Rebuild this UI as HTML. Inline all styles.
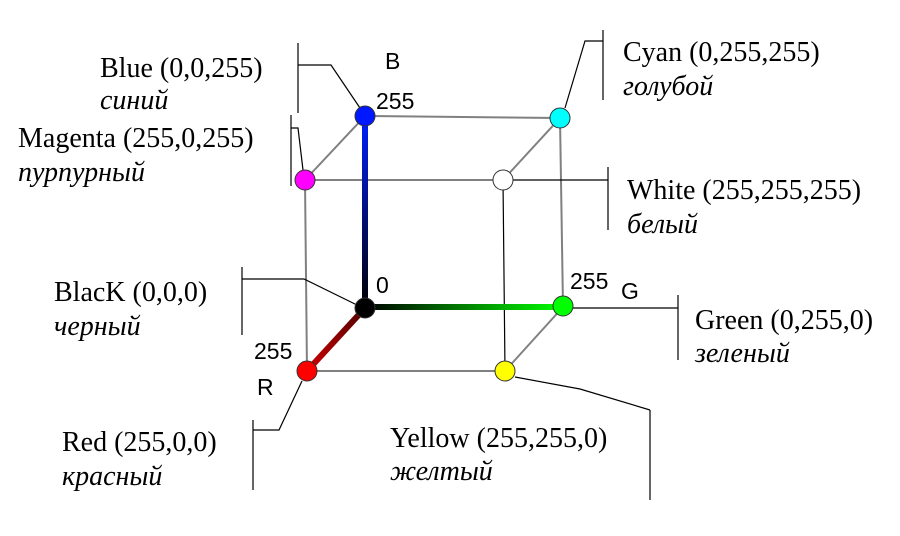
<!DOCTYPE html>
<html><head><meta charset="utf-8"><style>
body{margin:0;background:#fff}
svg{display:block}
.s{font-family:"Liberation Serif",serif;font-size:28px;fill:#000}
.i{font-family:"Liberation Serif",serif;font-size:28px;font-style:italic;fill:#000}
.a{font-family:"Liberation Sans",sans-serif;font-size:23px;fill:#000}
</style></head><body>
<svg width="900" height="536">
<defs>
<linearGradient id="gb" x1="0" y1="1" x2="0" y2="0"><stop offset="0" stop-color="#000"/><stop offset="1" stop-color="#0020ff"/></linearGradient>
<linearGradient id="gg" x1="0" y1="0" x2="1" y2="0"><stop offset="0" stop-color="#000"/><stop offset="1" stop-color="#00ff00"/></linearGradient>
<linearGradient id="gr" x1="1" y1="0" x2="0" y2="1"><stop offset="0" stop-color="#000"/><stop offset="1" stop-color="#ff0000"/></linearGradient>
</defs>
<g stroke="#808080" stroke-width="2" fill="none">
<line x1="365" y1="116" x2="560" y2="118"/>
<line x1="305" y1="180" x2="503" y2="180"/>
<line x1="305" y1="180" x2="365" y2="116"/>
<line x1="503" y1="180" x2="560" y2="118"/>
<line x1="305" y1="180" x2="307" y2="371"/>
<line x1="560" y1="118" x2="563" y2="307"/>
<line x1="307" y1="371" x2="505" y2="371"/>
<line x1="505" y1="371" x2="563" y2="307"/>
<line x1="503" y1="180" x2="505" y2="371" stroke="#000" stroke-width="1.2"/>
</g>
<g stroke="#000" stroke-width="1.2" fill="none">
<polyline points="298,43 298,113"/><polyline points="298,65 331,65 360,108"/>
<polyline points="291,115 291,186"/><polyline points="291,128 298,128 303,170"/>
<polyline points="603,30 603,100"/><polyline points="603,41 585,41 565,108"/>
<polyline points="513,180 608,180"/><polyline points="608,167 608,230"/>
<polyline points="242,267 242,335"/><polyline points="242,279 304,279 357,305"/>
<polyline points="573,308 678,308"/><polyline points="678,295 678,360"/>
<polyline points="302,381 279,430 253,430"/><polyline points="253,420 253,490"/>
<polyline points="515,377 580,389 650,410"/><polyline points="650,410 650,500"/>
</g>
<rect x="362" y="116" width="6" height="192" fill="url(#gb)"/>
<rect x="365" y="304" width="198" height="6" fill="url(#gg)"/>
<line x1="365" y1="308" x2="307" y2="371" stroke="url(#gr)" stroke-width="6"/>
<line x1="365" y1="308" x2="307" y2="371" stroke="#a00000" stroke-width="6" opacity="0.5"/>
<g stroke="#333" stroke-width="1">
<circle cx="365" cy="116" r="10" fill="#0018ff"/>
<circle cx="560" cy="118" r="10" fill="#00ffff"/>
<circle cx="305" cy="180" r="10" fill="#ff00ff"/>
<circle cx="503" cy="180" r="10" fill="#fff"/>
<circle cx="365" cy="308" r="10" fill="#000"/>
<circle cx="563" cy="306" r="10" fill="#00ff00"/>
<circle cx="307" cy="371" r="10" fill="#ff0000"/>
<circle cx="505" cy="371" r="10" fill="#ffff00"/>
</g>
<g>
<text class="a" x="385" y="69">B</text>
<text class="a" x="376" y="109">255</text>
<text class="a" x="376" y="293">0</text>
<text class="a" x="570" y="289">255</text>
<text class="a" x="621" y="299">G</text>
<text class="a" x="254" y="359">255</text>
<text class="a" x="257" y="395">R</text>
</g>
<g>
<text class="s" x="100" y="77">Blue (0,0,255)</text><text class="i" x="100" y="109">синий</text>
<text class="s" x="18" y="147">Magenta (255,0,255)</text><text class="i" x="18" y="181">пурпурный</text>
<text class="s" x="54" y="301">BlacK (0,0,0)</text><text class="i" x="54" y="335">черный</text>
<text class="s" x="62" y="451">Red (255,0,0)</text><text class="i" x="62" y="485">красный</text>
<text class="s" x="623" y="61">Cyan (0,255,255)</text><text class="i" x="623" y="95">голубой</text>
<text class="s" x="627" y="199">White (255,255,255)</text><text class="i" x="627" y="233">белый</text>
<text class="s" x="695" y="329">Green (0,255,0)</text><text class="i" x="695" y="362">зеленый</text>
<text class="s" x="390" y="447">Yellow (255,255,0)</text><text class="i" x="390" y="480">желтый</text>
</g>
</svg>
</body></html>
